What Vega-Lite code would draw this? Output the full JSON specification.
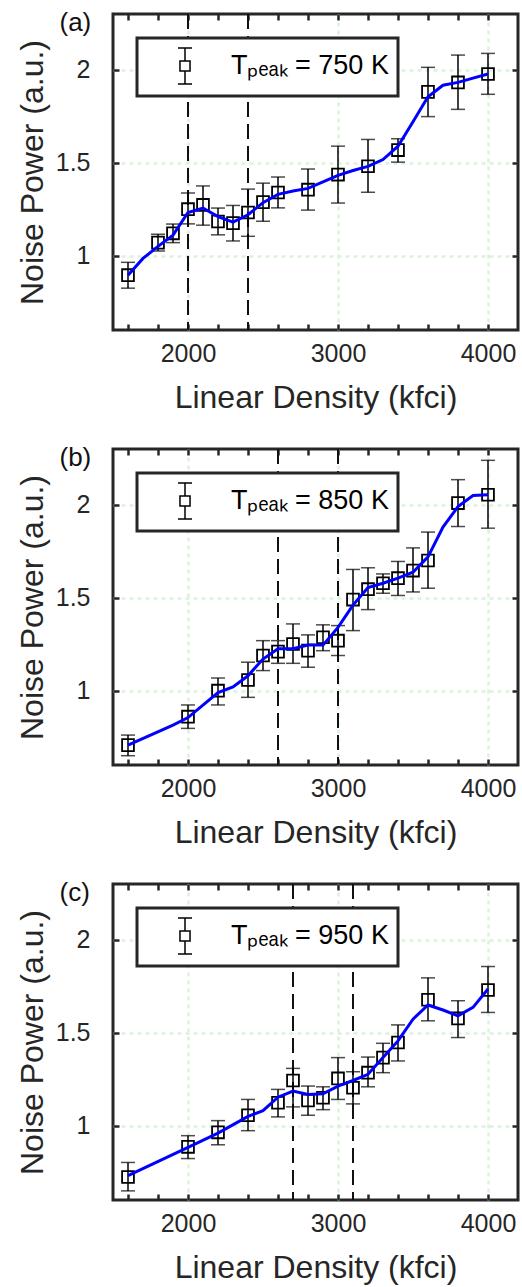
{
  "$schema": "https://vega.github.io/schema/vega-lite/v6.json",
  "padding": {"left": 14, "top": 7, "right": 0, "bottom": 0},
  "background": "white",
  "spacing": 27,
  "datasets": {
    "pa": [
      {"x": 1600, "y": 0.895, "lo": 0.825, "hi": 0.964, "label": "Tₚₑₐₖ = 750 K"},
      {"x": 1800, "y": 1.070, "lo": 1.025, "hi": 1.115, "label": "Tₚₑₐₖ = 750 K"},
      {"x": 1900, "y": 1.120, "lo": 1.070, "hi": 1.170, "label": "Tₚₑₐₖ = 750 K"},
      {"x": 2000, "y": 1.250, "lo": 1.171, "hi": 1.337, "label": "Tₚₑₐₖ = 750 K"},
      {"x": 2100, "y": 1.273, "lo": 1.164, "hi": 1.375, "label": "Tₚₑₐₖ = 750 K"},
      {"x": 2200, "y": 1.184, "lo": 1.112, "hi": 1.256, "label": "Tₚₑₐₖ = 750 K"},
      {"x": 2300, "y": 1.175, "lo": 1.079, "hi": 1.270, "label": "Tₚₑₐₖ = 750 K"},
      {"x": 2400, "y": 1.232, "lo": 1.104, "hi": 1.358, "label": "Tₚₑₐₖ = 750 K"},
      {"x": 2500, "y": 1.288, "lo": 1.185, "hi": 1.390, "label": "Tₚₑₐₖ = 750 K"},
      {"x": 2600, "y": 1.340, "lo": 1.257, "hi": 1.423, "label": "Tₚₑₐₖ = 750 K"},
      {"x": 2800, "y": 1.355, "lo": 1.245, "hi": 1.466, "label": "Tₚₑₐₖ = 750 K"},
      {"x": 3000, "y": 1.436, "lo": 1.283, "hi": 1.589, "label": "Tₚₑₐₖ = 750 K"},
      {"x": 3200, "y": 1.481, "lo": 1.341, "hi": 1.625, "label": "Tₚₑₐₖ = 750 K"},
      {"x": 3400, "y": 1.568, "lo": 1.503, "hi": 1.629, "label": "Tₚₑₐₖ = 750 K"},
      {"x": 3600, "y": 1.881, "lo": 1.748, "hi": 2.013, "label": "Tₚₑₐₖ = 750 K"},
      {"x": 3800, "y": 1.932, "lo": 1.787, "hi": 2.079, "label": "Tₚₑₐₖ = 750 K"},
      {"x": 4000, "y": 1.977, "lo": 1.868, "hi": 2.088, "label": "Tₚₑₐₖ = 750 K"}
    ],
    "la": [
      {"x": 1600, "y": 0.895}, {"x": 1700, "y": 0.985}, {"x": 1800, "y": 1.05}, {"x": 1900, "y": 1.11},
      {"x": 2000, "y": 1.232}, {"x": 2100, "y": 1.256}, {"x": 2200, "y": 1.21}, {"x": 2300, "y": 1.18},
      {"x": 2400, "y": 1.22}, {"x": 2500, "y": 1.285}, {"x": 2600, "y": 1.33}, {"x": 2700, "y": 1.348},
      {"x": 2800, "y": 1.362}, {"x": 2900, "y": 1.397}, {"x": 3000, "y": 1.432}, {"x": 3100, "y": 1.458},
      {"x": 3200, "y": 1.48}, {"x": 3300, "y": 1.517}, {"x": 3400, "y": 1.589}, {"x": 3500, "y": 1.72},
      {"x": 3600, "y": 1.855}, {"x": 3700, "y": 1.917}, {"x": 3800, "y": 1.932}, {"x": 3900, "y": 1.955},
      {"x": 4000, "y": 1.977}
    ],
    "va": [{"x": 2000}, {"x": 2400}],
    "pb": [
      {"x": 1600, "y": 0.707, "lo": 0.650, "hi": 0.761, "label": "Tₚₑₐₖ = 850 K"},
      {"x": 2000, "y": 0.860, "lo": 0.797, "hi": 0.923, "label": "Tₚₑₐₖ = 850 K"},
      {"x": 2200, "y": 1.000, "lo": 0.923, "hi": 1.068, "label": "Tₚₑₐₖ = 850 K"},
      {"x": 2400, "y": 1.057, "lo": 0.964, "hi": 1.153, "label": "Tₚₑₐₖ = 850 K"},
      {"x": 2500, "y": 1.189, "lo": 1.108, "hi": 1.269, "label": "Tₚₑₐₖ = 850 K"},
      {"x": 2600, "y": 1.210, "lo": 1.147, "hi": 1.269, "label": "Tₚₑₐₖ = 850 K"},
      {"x": 2700, "y": 1.251, "lo": 1.147, "hi": 1.359, "label": "Tₚₑₐₖ = 850 K"},
      {"x": 2800, "y": 1.215, "lo": 1.126, "hi": 1.300, "label": "Tₚₑₐₖ = 850 K"},
      {"x": 2900, "y": 1.287, "lo": 1.215, "hi": 1.354, "label": "Tₚₑₐₖ = 850 K"},
      {"x": 3000, "y": 1.269, "lo": 1.189, "hi": 1.350, "label": "Tₚₑₐₖ = 850 K"},
      {"x": 3100, "y": 1.490, "lo": 1.323, "hi": 1.652, "label": "Tₚₑₐₖ = 850 K"},
      {"x": 3200, "y": 1.546, "lo": 1.436, "hi": 1.661, "label": "Tₚₑₐₖ = 850 K"},
      {"x": 3300, "y": 1.578, "lo": 1.524, "hi": 1.628, "label": "Tₚₑₐₖ = 850 K"},
      {"x": 3400, "y": 1.605, "lo": 1.512, "hi": 1.695, "label": "Tₚₑₐₖ = 850 K"},
      {"x": 3500, "y": 1.646, "lo": 1.531, "hi": 1.768, "label": "Tₚₑₐₖ = 850 K"},
      {"x": 3600, "y": 1.700, "lo": 1.551, "hi": 1.853, "label": "Tₚₑₐₖ = 850 K"},
      {"x": 3800, "y": 2.009, "lo": 1.883, "hi": 2.135, "label": "Tₚₑₐₖ = 850 K"},
      {"x": 4000, "y": 2.054, "lo": 1.874, "hi": 2.239, "label": "Tₚₑₐₖ = 850 K"}
    ],
    "lb": [
      {"x": 1600, "y": 0.707}, {"x": 1900, "y": 0.815}, {"x": 2000, "y": 0.855}, {"x": 2200, "y": 0.99},
      {"x": 2300, "y": 1.02}, {"x": 2400, "y": 1.08}, {"x": 2500, "y": 1.17}, {"x": 2600, "y": 1.225},
      {"x": 2700, "y": 1.225}, {"x": 2800, "y": 1.245}, {"x": 2900, "y": 1.245}, {"x": 3000, "y": 1.34},
      {"x": 3100, "y": 1.46}, {"x": 3200, "y": 1.555}, {"x": 3300, "y": 1.578}, {"x": 3400, "y": 1.605},
      {"x": 3500, "y": 1.637}, {"x": 3600, "y": 1.72}, {"x": 3700, "y": 1.88}, {"x": 3800, "y": 1.99},
      {"x": 3900, "y": 2.05}, {"x": 4000, "y": 2.054}
    ],
    "vb": [{"x": 2600}, {"x": 3000}],
    "pc": [
      {"x": 1600, "y": 0.724, "lo": 0.649, "hi": 0.802, "label": "Tₚₑₐₖ = 950 K"},
      {"x": 2000, "y": 0.886, "lo": 0.823, "hi": 0.946, "label": "Tₚₑₐₖ = 950 K"},
      {"x": 2200, "y": 0.964, "lo": 0.897, "hi": 1.027, "label": "Tₚₑₐₖ = 950 K"},
      {"x": 2400, "y": 1.056, "lo": 0.973, "hi": 1.141, "label": "Tₚₑₐₖ = 950 K"},
      {"x": 2600, "y": 1.123, "lo": 1.047, "hi": 1.195, "label": "Tₚₑₐₖ = 950 K"},
      {"x": 2700, "y": 1.243, "lo": 1.101, "hi": 1.308, "label": "Tₚₑₐₖ = 950 K"},
      {"x": 2800, "y": 1.135, "lo": 1.056, "hi": 1.213, "label": "Tₚₑₐₖ = 950 K"},
      {"x": 2900, "y": 1.150, "lo": 1.086, "hi": 1.209, "label": "Tₚₑₐₖ = 950 K"},
      {"x": 3000, "y": 1.254, "lo": 1.141, "hi": 1.366, "label": "Tₚₑₐₖ = 950 K"},
      {"x": 3100, "y": 1.204, "lo": 1.117, "hi": 1.290, "label": "Tₚₑₐₖ = 950 K"},
      {"x": 3200, "y": 1.285, "lo": 1.209, "hi": 1.369, "label": "Tₚₑₐₖ = 950 K"},
      {"x": 3300, "y": 1.366, "lo": 1.285, "hi": 1.443, "label": "Tₚₑₐₖ = 950 K"},
      {"x": 3400, "y": 1.447, "lo": 1.348, "hi": 1.542, "label": "Tₚₑₐₖ = 950 K"},
      {"x": 3600, "y": 1.677, "lo": 1.564, "hi": 1.795, "label": "Tₚₑₐₖ = 950 K"},
      {"x": 3800, "y": 1.577, "lo": 1.474, "hi": 1.672, "label": "Tₚₑₐₖ = 950 K"},
      {"x": 4000, "y": 1.730, "lo": 1.609, "hi": 1.856, "label": "Tₚₑₐₖ = 950 K"}
    ],
    "lc": [
      {"x": 1600, "y": 0.731}, {"x": 2000, "y": 0.883}, {"x": 2200, "y": 0.96}, {"x": 2400, "y": 1.05},
      {"x": 2500, "y": 1.081}, {"x": 2600, "y": 1.153}, {"x": 2700, "y": 1.186}, {"x": 2800, "y": 1.168},
      {"x": 2900, "y": 1.171}, {"x": 3000, "y": 1.213}, {"x": 3100, "y": 1.243}, {"x": 3200, "y": 1.276},
      {"x": 3300, "y": 1.366}, {"x": 3400, "y": 1.456}, {"x": 3500, "y": 1.573}, {"x": 3600, "y": 1.649},
      {"x": 3700, "y": 1.622}, {"x": 3800, "y": 1.591}, {"x": 3900, "y": 1.636}, {"x": 4000, "y": 1.735}
    ],
    "vc": [{"x": 2700}, {"x": 3100}]
  },
  "vconcat": [
    {
      "width": 405, "height": 316,
      "layer": [
        {"data": {"name": "va"}, "mark": {"type": "rule", "strokeDash": [15, 7], "strokeWidth": 2, "color": "#111111"},
         "encoding": {"x": {"field": "x", "type": "quantitative", "scale": {"domain": [1500, 4200], "nice": false, "zero": false},
           "axis": {"orient": "bottom", "values": [1600,1800,2000,2200,2400,2600,2800,3000,3200,3400,3600,3800,4000], "format": "d",
             "labelExpr": "datum.value % 1000 === 0 ? datum.label : ''", "labelFlush": false, "labelOverlap": false,
             "title": "Linear Density (kfci)", "grid": true,
             "gridOpacity": {"condition": {"test": "datum.value % 1000 === 0", "value": 1}, "value": 0}}}}},
        {"data": {"name": "pa"}, "mark": {"type": "errorbar", "color": "black", "ticks": {"size": 14, "thickness": 1.5}, "rule": {"strokeWidth": 1.5}},
         "encoding": {"x": {"field": "x", "type": "quantitative", "scale": {"domain": [1500, 4200], "nice": false, "zero": false}, "axis": null},
           "y": {"field": "lo", "type": "quantitative", "scale": {"domain": [0.6, 2.3], "nice": false, "zero": false}, "axis": null},
           "y2": {"field": "hi"}}},
        {"data": {"name": "pa"}, "mark": {"type": "point", "shape": "square", "filled": false, "size": 140, "strokeWidth": 1.8, "opacity": 1},
         "encoding": {"x": {"field": "x", "type": "quantitative", "scale": {"domain": [1500, 4200], "nice": false, "zero": false}, "axis": null},
           "y": {"field": "y", "type": "quantitative", "scale": {"domain": [0.6, 2.3], "nice": false, "zero": false},
             "axis": {"orient": "right", "values": [1, 1.5, 2], "labels": false, "title": null, "grid": false}},
           "color": {"field": "label", "type": "nominal", "scale": {"range": ["#000000"]}, "legend": {"title": null}}}},
        {"data": {"name": "la"}, "mark": {"type": "line", "color": "#0000ff", "strokeWidth": 3},
         "encoding": {"x": {"field": "x", "type": "quantitative", "scale": {"domain": [1500, 4200], "nice": false, "zero": false},
             "axis": {"orient": "top", "values": [1600,1800,2000,2200,2400,2600,2800,3000,3200,3400,3600,3800,4000], "labels": false, "grid": false,
               "title": "(a)", "titleX": -54, "titleY": 16, "titleAlign": "left", "titleBaseline": "alphabetic", "titleAngle": 0, "titleFontSize": 26, "titleColor": "#111111"}},
           "y": {"field": "y", "type": "quantitative", "scale": {"domain": [0.6, 2.3], "nice": false, "zero": false},
             "axis": {"orient": "left", "values": [1, 1.5, 2], "format": "~g", "title": "Noise Power (a.u.)", "grid": true}}}}
      ],
      "resolve": {"axis": {"x": "independent", "y": "independent"}}
    },
    {
      "width": 405, "height": 316,
      "layer": [
        {"data": {"name": "vb"}, "mark": {"type": "rule", "strokeDash": [15, 7], "strokeWidth": 2, "color": "#111111"},
         "encoding": {"x": {"field": "x", "type": "quantitative", "scale": {"domain": [1500, 4200], "nice": false, "zero": false},
           "axis": {"orient": "bottom", "values": [1600,1800,2000,2200,2400,2600,2800,3000,3200,3400,3600,3800,4000], "format": "d",
             "labelExpr": "datum.value % 1000 === 0 ? datum.label : ''", "labelFlush": false, "labelOverlap": false,
             "title": "Linear Density (kfci)", "grid": true,
             "gridOpacity": {"condition": {"test": "datum.value % 1000 === 0", "value": 1}, "value": 0}}}}},
        {"data": {"name": "pb"}, "mark": {"type": "errorbar", "color": "black", "ticks": {"size": 14, "thickness": 1.5}, "rule": {"strokeWidth": 1.5}},
         "encoding": {"x": {"field": "x", "type": "quantitative", "scale": {"domain": [1500, 4200], "nice": false, "zero": false}, "axis": null},
           "y": {"field": "lo", "type": "quantitative", "scale": {"domain": [0.6, 2.3], "nice": false, "zero": false}, "axis": null},
           "y2": {"field": "hi"}}},
        {"data": {"name": "pb"}, "mark": {"type": "point", "shape": "square", "filled": false, "size": 140, "strokeWidth": 1.8, "opacity": 1},
         "encoding": {"x": {"field": "x", "type": "quantitative", "scale": {"domain": [1500, 4200], "nice": false, "zero": false}, "axis": null},
           "y": {"field": "y", "type": "quantitative", "scale": {"domain": [0.6, 2.3], "nice": false, "zero": false},
             "axis": {"orient": "right", "values": [1, 1.5, 2], "labels": false, "title": null, "grid": false}},
           "color": {"field": "label", "type": "nominal", "scale": {"range": ["#000000"]}, "legend": {"title": null}}}},
        {"data": {"name": "lb"}, "mark": {"type": "line", "color": "#0000ff", "strokeWidth": 3},
         "encoding": {"x": {"field": "x", "type": "quantitative", "scale": {"domain": [1500, 4200], "nice": false, "zero": false},
             "axis": {"orient": "top", "values": [1600,1800,2000,2200,2400,2600,2800,3000,3200,3400,3600,3800,4000], "labels": false, "grid": false,
               "title": "(b)", "titleX": -54, "titleY": 16, "titleAlign": "left", "titleBaseline": "alphabetic", "titleAngle": 0, "titleFontSize": 26, "titleColor": "#111111"}},
           "y": {"field": "y", "type": "quantitative", "scale": {"domain": [0.6, 2.3], "nice": false, "zero": false},
             "axis": {"orient": "left", "values": [1, 1.5, 2], "format": "~g", "title": "Noise Power (a.u.)", "grid": true}}}}
      ],
      "resolve": {"axis": {"x": "independent", "y": "independent"}}
    },
    {
      "width": 405, "height": 316,
      "layer": [
        {"data": {"name": "vc"}, "mark": {"type": "rule", "strokeDash": [15, 7], "strokeWidth": 2, "color": "#111111"},
         "encoding": {"x": {"field": "x", "type": "quantitative", "scale": {"domain": [1500, 4200], "nice": false, "zero": false},
           "axis": {"orient": "bottom", "values": [1600,1800,2000,2200,2400,2600,2800,3000,3200,3400,3600,3800,4000], "format": "d",
             "labelExpr": "datum.value % 1000 === 0 ? datum.label : ''", "labelFlush": false, "labelOverlap": false,
             "title": "Linear Density (kfci)", "grid": true,
             "gridOpacity": {"condition": {"test": "datum.value % 1000 === 0", "value": 1}, "value": 0}}}}},
        {"data": {"name": "pc"}, "mark": {"type": "errorbar", "color": "black", "ticks": {"size": 14, "thickness": 1.5}, "rule": {"strokeWidth": 1.5}},
         "encoding": {"x": {"field": "x", "type": "quantitative", "scale": {"domain": [1500, 4200], "nice": false, "zero": false}, "axis": null},
           "y": {"field": "lo", "type": "quantitative", "scale": {"domain": [0.6, 2.3], "nice": false, "zero": false}, "axis": null},
           "y2": {"field": "hi"}}},
        {"data": {"name": "pc"}, "mark": {"type": "point", "shape": "square", "filled": false, "size": 140, "strokeWidth": 1.8, "opacity": 1},
         "encoding": {"x": {"field": "x", "type": "quantitative", "scale": {"domain": [1500, 4200], "nice": false, "zero": false}, "axis": null},
           "y": {"field": "y", "type": "quantitative", "scale": {"domain": [0.6, 2.3], "nice": false, "zero": false},
             "axis": {"orient": "right", "values": [1, 1.5, 2], "labels": false, "title": null, "grid": false}},
           "color": {"field": "label", "type": "nominal", "scale": {"range": ["#000000"]}, "legend": {"title": null}}}},
        {"data": {"name": "lc"}, "mark": {"type": "line", "color": "#0000ff", "strokeWidth": 3},
         "encoding": {"x": {"field": "x", "type": "quantitative", "scale": {"domain": [1500, 4200], "nice": false, "zero": false},
             "axis": {"orient": "top", "values": [1600,1800,2000,2200,2400,2600,2800,3000,3200,3400,3600,3800,4000], "labels": false, "grid": false,
               "title": "(c)", "titleX": -54, "titleY": 16, "titleAlign": "left", "titleBaseline": "alphabetic", "titleAngle": 0, "titleFontSize": 26, "titleColor": "#111111"}},
           "y": {"field": "y", "type": "quantitative", "scale": {"domain": [0.6, 2.3], "nice": false, "zero": false},
             "axis": {"orient": "left", "values": [1, 1.5, 2], "format": "~g", "title": "Noise Power (a.u.)", "grid": true}}}}
      ],
      "resolve": {"axis": {"x": "independent", "y": "independent"}}
    }
  ],
  "resolve": {"scale": {"color": "independent"}, "legend": {"color": "independent"}},
  "config": {
    "font": "Liberation Sans",
    "view": {"stroke": "#262626", "strokeWidth": 3},
    "axis": {
      "domain": false, "grid": false,
      "tickColor": "#262626", "tickWidth": 2.5, "tickSize": -6,
      "labelFontSize": 25, "labelColor": "#262626", "labelFont": "Liberation Sans",
      "titleFontSize": 32, "titleFontWeight": "normal", "titleColor": "#262626", "titleFont": "Liberation Sans",
      "gridColor": "#dcf2dc", "gridDash": [4, 4], "gridWidth": 2.5
    },
    "axisX": {"labelPadding": 17, "titlePadding": 16},
    "axisY": {"labelPadding": 29, "titlePadding": 6},
    "legend": {
      "orient": "top-left", "offset": 24,
      "symbolType": "M-0.28,-0.28H0.28V0.28H-0.28Z M0,-0.28V-1 M-0.39,-1H0.39 M0,0.28V1 M-0.39,1H0.39",
      "symbolSize": 1296, "symbolStrokeWidth": 1.5, "symbolStrokeColor": "#000000", "symbolFillColor": "transparent",
      "symbolOffset": 20, "labelOffset": 27,
      "labelFontSize": 27, "labelFont": "Liberation Sans", "labelColor": "#000000", "labelLimit": 400, "labelBaseline": "middle",
      "padding": 9, "strokeColor": "#262626", "strokeWidth": 3, "fillColor": "white"
    }
  }
}
